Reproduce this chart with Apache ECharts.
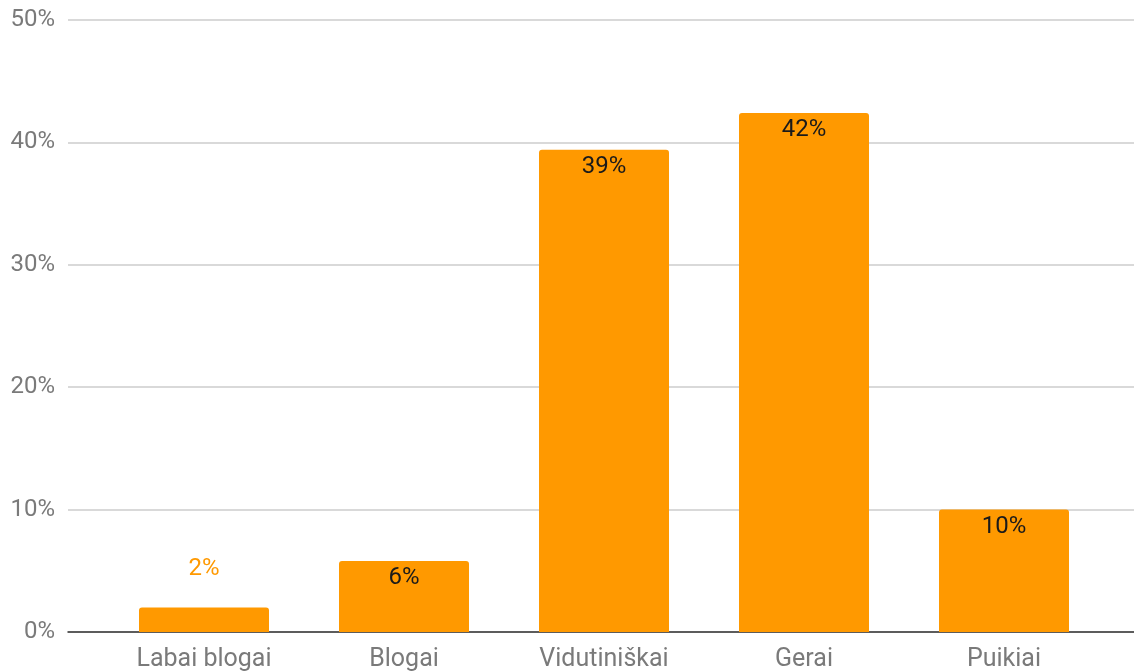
<!DOCTYPE html>
<html>
<head>
<meta charset="utf-8">
<script src="https://cdn.jsdelivr.net/npm/echarts@6/dist/echarts.min.js"></script>
<style>
  html, body { margin: 0; padding: 0; background: #fff; }
  #chart { width: 1134px; height: 672px; }
</style>
</head>
<body>
<div id="chart"></div>
<script>
// Ratings distribution, share of answers in percent
const categories = ['Labai blogai', 'Blogai', 'Vidutiniškai', 'Gerai', 'Puikiai'];
const shares = [2.0, 5.8, 39.4, 42.4, 10.0];
const yTicks = [0, 10, 20, 30, 40, 50];

const ORANGE = '#FF9900';
const FONT = 'Roboto';

const chart = echarts.init(document.getElementById('chart'));

// Short bars get their label above the bar, in the bar colour
const barData = shares.map(v => v < 4 ? {
  value: v,
  label: { position: 'top', distance: 27, color: ORANGE }
} : v);

chart.setOption({
  animation: false,
  textStyle: { fontFamily: FONT },
  grid: [
    // full-width grid carrying the value axis and gridlines
    { left: 68, right: 0, top: 20, bottom: 40 },
    // inner grid holding the bars
    { left: 104, right: 30, top: 20, bottom: 40 }
  ],
  xAxis: [
    {
      gridIndex: 0, type: 'value', min: 0, max: 1,
      axisLine: { show: true, lineStyle: { color: '#333', width: 1.5 } },
      axisTick: { show: false }, axisLabel: { show: false }, splitLine: { show: false }
    },
    {
      gridIndex: 1, type: 'category', data: categories, boundaryGap: true,
      axisLine: { show: false }, axisTick: { show: false },
      axisLabel: { color: '#7a7a7a', fontSize: 25, margin: 15, fontFamily: FONT }
    }
  ],
  yAxis: [
    {
      gridIndex: 0, type: 'value', min: yTicks[0], max: yTicks[yTicks.length - 1], interval: 10,
      axisLine: { show: false }, axisTick: { show: false },
      axisLabel: { color: '#7a7a7a', fontSize: 24, margin: 13, fontFamily: FONT, formatter: '{value}%' },
      splitLine: { lineStyle: { color: '#cccccc', width: 1.5 } }
    },
    {
      gridIndex: 1, type: 'value', min: yTicks[0], max: yTicks[yTicks.length - 1], show: false,
      splitLine: { show: false }
    }
  ],
  series: [{
    type: 'bar',
    xAxisIndex: 1,
    yAxisIndex: 1,
    data: barData,
    barWidth: 130,
    itemStyle: { color: ORANGE, borderRadius: [3, 3, 0, 0] },
    label: {
      show: true,
      position: 'insideTop',
      distance: 5,
      color: '#1a1a1a',
      fontSize: 24,
      fontFamily: FONT,
      formatter: p => Math.round(p.value) + '%'
    },
    z: 3
  }]
});
</script>
</body>
</html>
